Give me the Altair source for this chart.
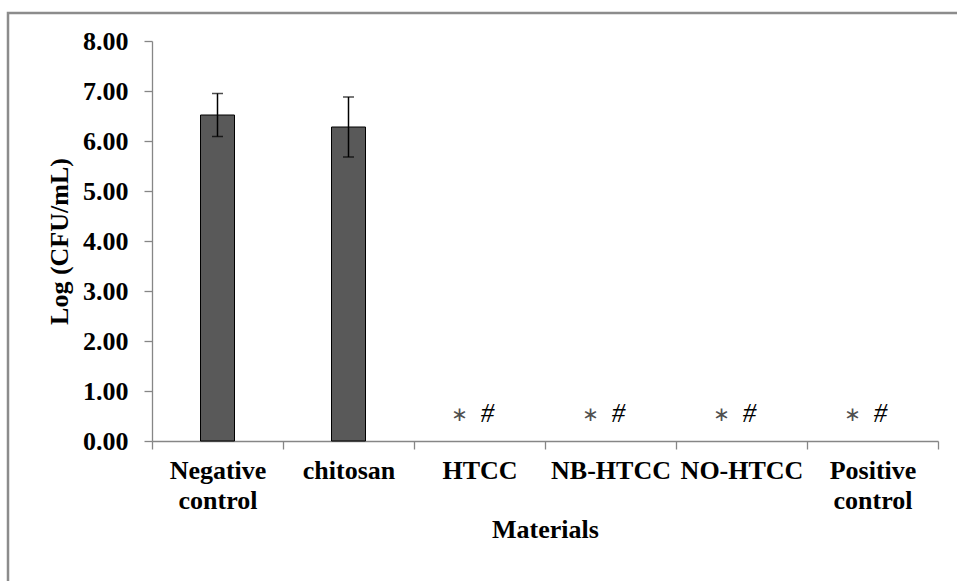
import altair as alt
import pandas as pd

categories = ["Negative control", "chitosan", "HTCC", "NB-HTCC", "NO-HTCC", "Positive control"]
means = [6.52, 6.28, 0.0, 0.0, 0.0, 0.0]
sds = [0.43, 0.60, 0.0, 0.0, 0.0, 0.0]
star_marks = ["", "", "∗", "∗", "∗", "∗"]
hash_marks = ["", "", "#", "#", "#", "#"]
y_ticks = [0, 1, 2, 3, 4, 5, 6, 7, 8]

df = pd.DataFrame({
    "material": categories,
    "mean": means,
    "sd": sds,
    "star": star_marks,
    "hash": hash_marks,
})

FONT = "Liberation Serif"
AXIS_GRAY = "#868686"

x_enc = alt.X(
    "material:N",
    sort=categories,
    scale=alt.Scale(paddingInner=0, paddingOuter=0),
    axis=alt.Axis(
        title="Materials",
        labelExpr="split(datum.label, ' ')",
        labelAngle=0,
        tickBand="extent",
        labelPadding=8,
        labelLineHeight=30,
        labelBaseline="top",
        tickSize=8,
        titlePadding=3,
    ),
)

y_scale = alt.Scale(domain=[0, 8], nice=False)
y_axis = alt.Axis(
    title="Log (CFU/mL)",
    values=y_ticks,
    format=".2f",
    tickSize=8,
    labelPadding=16,
    titlePadding=10,
    grid=False,
)

base = alt.Chart(df)

bars = base.mark_bar(size=34, color="#595959", stroke="black", strokeWidth=1).encode(
    x=x_enc,
    y=alt.Y("mean:Q", scale=y_scale, axis=y_axis, title="Log (CFU/mL)"),
    strokeOpacity=alt.condition("datum.mean > 0", alt.value(1), alt.value(0)),
    fillOpacity=alt.condition("datum.mean > 0", alt.value(1), alt.value(0)),
)

err = base.transform_filter("datum.sd > 0").transform_calculate(
    lo="datum.mean - datum.sd", hi="datum.mean + datum.sd"
)

err_rule = err.mark_rule(color="black", strokeWidth=1.5).encode(
    x=alt.X("material:N", sort=categories),
    y=alt.Y("lo:Q", scale=y_scale, title="Log (CFU/mL)"),
    y2="hi:Q",
)
cap_top = err.mark_tick(color="black", thickness=1.5, size=11, orient="horizontal").encode(
    x=alt.X("material:N", sort=categories),
    y=alt.Y("hi:Q", scale=y_scale, title="Log (CFU/mL)"),
)
cap_bot = err.mark_tick(color="black", thickness=1.5, size=11, orient="horizontal").encode(
    x=alt.X("material:N", sort=categories),
    y=alt.Y("lo:Q", scale=y_scale, title="Log (CFU/mL)"),
)

ann = base.transform_filter("datum.hash != ''").transform_calculate(ty="datum.mean + 0.54")

star_text = ann.mark_text(font="DejaVu Sans", fontSize=20, color="#505050", dx=-20, dy=1, baseline="middle").encode(
    x=alt.X("material:N", sort=categories),
    y=alt.Y("ty:Q", scale=y_scale, title="Log (CFU/mL)"),
    text="star:N",
)
hash_text = ann.mark_text(font=FONT, fontStyle="italic", fontSize=27, color="black", dx=8, baseline="middle").encode(
    x=alt.X("material:N", sort=categories),
    y=alt.Y("ty:Q", scale=y_scale, title="Log (CFU/mL)"),
    text="hash:N",
)

frame = alt.Chart(pd.DataFrame({"f": [0]})).mark_rect(
    fillOpacity=0, stroke="#8c8c8c", strokeWidth=2.5
).encode(
    x=alt.value(-144), x2=alt.value(900), y=alt.value(-28), y2=alt.value(700)
)

chart = alt.layer(frame, bars, err_rule, cap_top, cap_bot, star_text, hash_text).properties(
    width=786,
    height=400,
    background="white",
    autosize=alt.AutoSizeParams(type="none"),
    padding={"left": 152, "top": 41, "right": 19, "bottom": 140},
).configure_view(stroke=None).configure_axis(
    labelFont=FONT,
    titleFont=FONT,
    labelFontSize=26,
    titleFontSize=26,
    labelFontWeight="bold",
    titleFontWeight="bold",
    labelColor="black",
    titleColor="black",
    domainColor=AXIS_GRAY,
    tickColor=AXIS_GRAY,
    domainWidth=1.3,
    tickWidth=1.3,
)

chart.save("out.html", embed_options={"renderer": "svg", "actions": False})
